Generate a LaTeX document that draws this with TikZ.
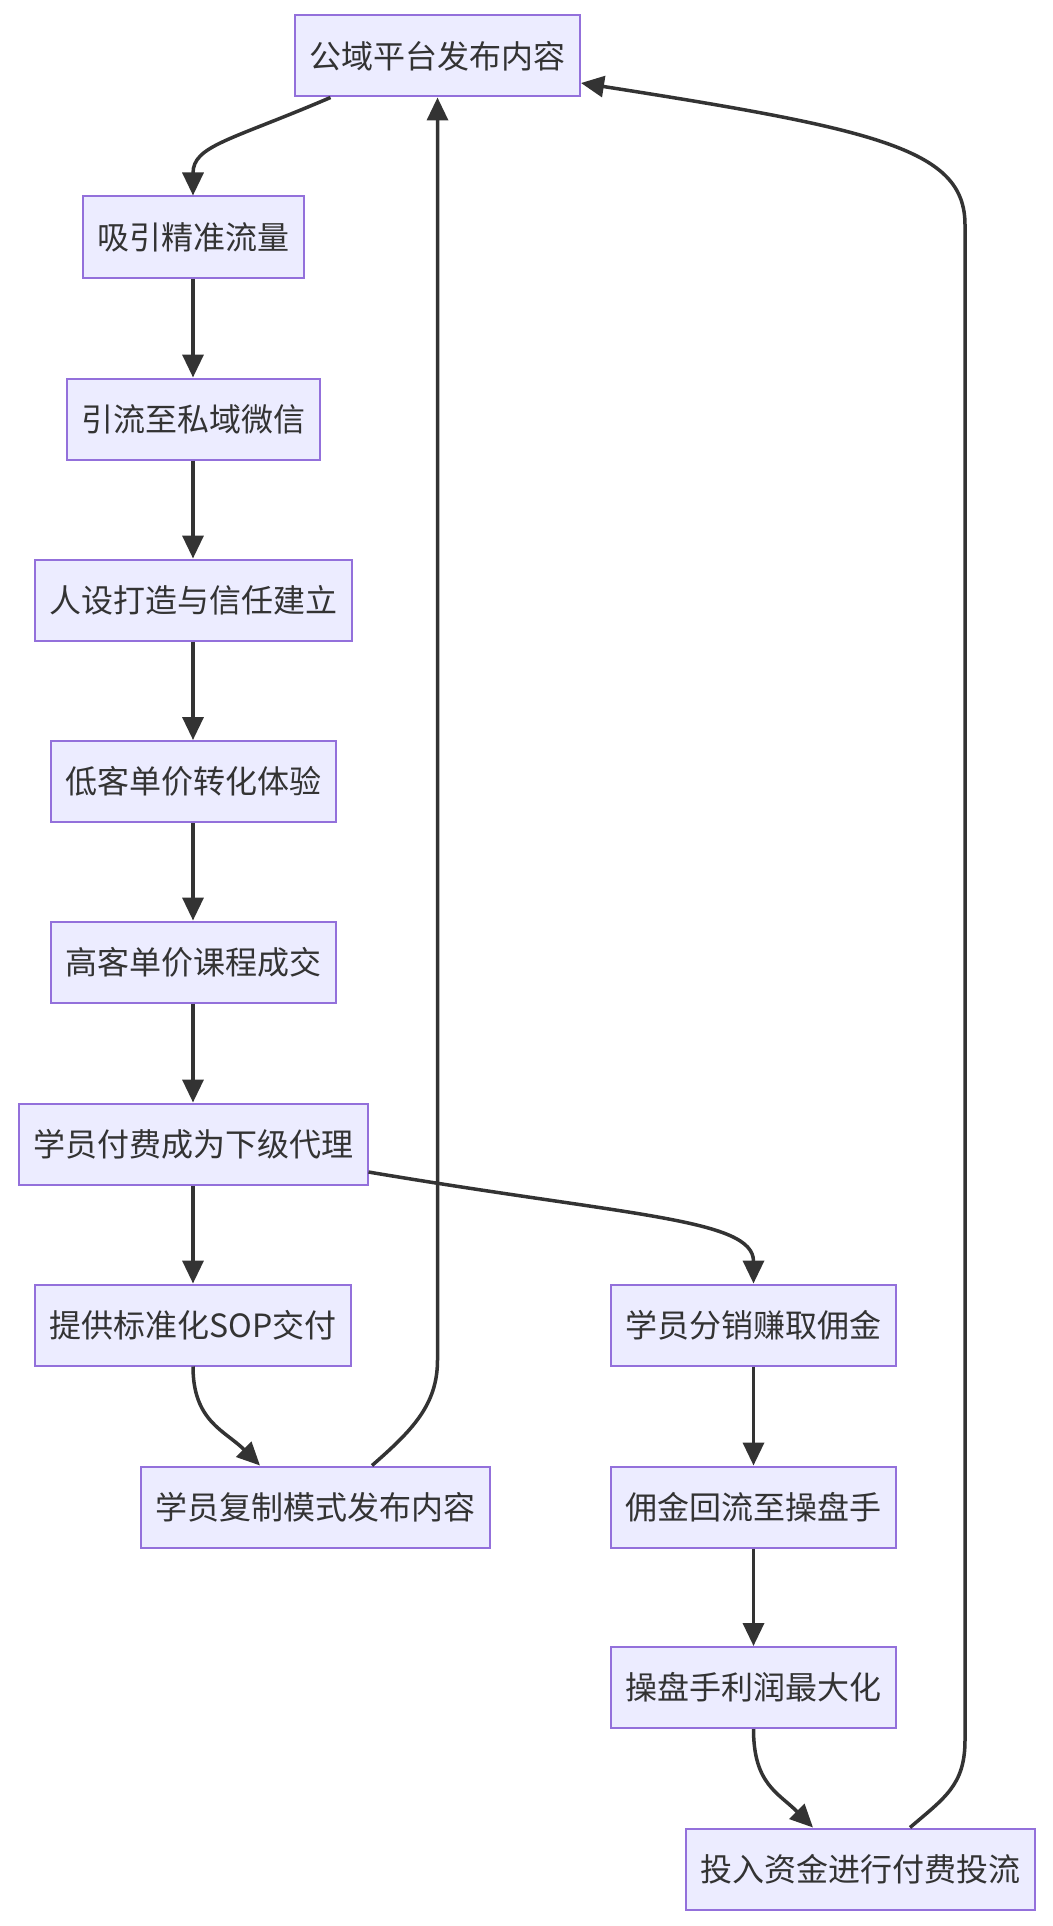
\documentclass[tikz,border=0pt]{standalone}
\usepackage{fontspec}
\newfontfamily\cjk{Noto Sans CJK SC}
\usepackage{tikz}
\usetikzlibrary{arrows.meta}
\usepackage{xcolor}
\definecolor{boxfill}{HTML}{ECECFF}
\definecolor{boxline}{HTML}{9370DB}
\definecolor{ink}{HTML}{333333}

\begin{document}
\begin{tikzpicture}[x=1pt, y=-1pt,
    stage/.style={draw=boxline, fill=boxfill, line width=2pt, text=ink,
        font=\cjk\fontsize{32pt}{38pt}\selectfont,
        minimum height=81pt, inner xsep=14.5pt, inner ysep=0pt},
    flow/.style={draw=ink, line width=3.5pt, -{Triangle[length=23pt,width=21pt]}}]
    \useasboundingbox (0,0) rectangle (1052,1926);
    \fill[white] (0,0) rectangle (1052,1926);
    % left column
    \node[stage] (publish) at (437.5,56) {公域平台发布内容};
    \node[stage] (attract) at (193,237) {吸引精准流量};
    \node[stage] (private) at (193,419) {引流至私域微信};
    \node[stage] (persona) at (193,600) {人设打造与信任建立};
    \node[stage] (lowprice) at (193,781.5) {低客单价转化体验};
    \node[stage] (highprice) at (193,962) {高客单价课程成交};
    \node[stage] (agent) at (193,1144) {学员付费成为下级代理};
    \node[stage] (sop) at (193,1325) {提供标准化SOP交付};
    \node[stage] (copy) at (315,1507) {学员复制模式发布内容};
    % right column
    \node[stage] (distrib) at (753.5,1325) {学员分销赚取佣金};
    \node[stage] (commission) at (753.5,1507) {佣金回流至操盘手};
    \node[stage] (profit) at (753.5,1687.5) {操盘手利润最大化};
    \node[stage] (invest) at (860,1869) {投入资金进行付费投流};
    \coordinate (lup) at (publish.south |- 0,1360);
    \coordinate (rlow) at (965,1740);
    \coordinate (rtop) at (965,225);

    \foreach \a/\b in {attract/private, private/persona, persona/lowprice,
        lowprice/highprice, highprice/agent, agent/sop,
        distrib/commission, commission/profit}
        \draw[flow] (\a) -- (\b);
    \draw[flow] ([xshift=-107pt]publish.south) .. controls +(-100,43) and +(0,-50) .. (attract.north);
    \draw[flow] ([yshift=-28pt]agent.east) .. controls +(260,44) and +(0,-65) .. (distrib.north);
    \draw[flow] (sop.south) .. controls +(0,55) and +(-35,-35) .. ([xshift=-55pt]copy.north);
    \draw[flow] ([xshift=57pt]copy.north) .. controls +(40,-35) and +(0,45) .. (lup) -- (publish.south);
    \draw[flow] (profit.south) .. controls +(0,55) and +(-35,-35) .. ([xshift=-47pt]invest.north);
    \draw[flow] ([xshift=50pt]invest.north) .. controls +(35,-30) and +(0,45) .. (rlow)
        -- (rtop) .. controls +(0,-75) and +(300,47) .. ([yshift=-27pt]publish.east);
\end{tikzpicture}
\end{document}
